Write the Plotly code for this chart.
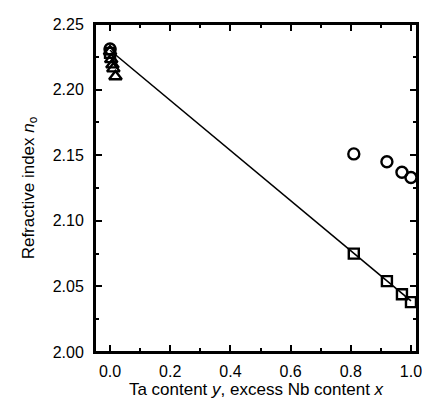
import plotly.graph_objects as go

# Data
tri_x = [0.0, 0.004, 0.008, 0.011, 0.018]
tri_y = [2.229, 2.223, 2.219, 2.216, 2.210]

sq_x = [0.0, 0.81, 0.92, 0.97, 1.0]
sq_y = [2.228, 2.075, 2.054, 2.044, 2.038]

circ_x = [0.0, 0.81, 0.92, 0.97, 1.0]
circ_y = [2.231, 2.151, 2.145, 2.137, 2.133]

fit_x = [0.0, 1.0]
fit_y = [2.230, 2.039]

x_ticks = [0.0, 0.2, 0.4, 0.6, 0.8, 1.0]
y_ticks = [2.00, 2.05, 2.10, 2.15, 2.20, 2.25]

X_RANGE = [-0.05, 1.02]
Y_RANGE = [2.0, 2.25]
FONT = "Liberation Sans, Arial, sans-serif"

fig = go.Figure()
fig.add_trace(go.Scatter(x=fit_x, y=fit_y, mode="lines",
                         line=dict(color="black", width=1.6), showlegend=False))
fig.add_trace(go.Scatter(x=circ_x, y=circ_y, mode="markers",
                         marker=dict(symbol="circle-open", size=11, color="black",
                                     line=dict(width=2.4, color="black")), showlegend=False))
fig.add_trace(go.Scatter(x=sq_x, y=sq_y, mode="markers",
                         marker=dict(symbol="square-open", size=10, color="black",
                                     line=dict(width=2.4, color="black")), showlegend=False))
fig.add_trace(go.Scatter(x=tri_x, y=tri_y, mode="markers",
                         marker=dict(symbol="triangle-up-open", size=11, color="black",
                                     line=dict(width=2.4, color="black")), showlegend=False))
# invisible trace so the mirrored (top/right) axes get drawn
fig.add_trace(go.Scatter(x=fit_x, y=fit_y, xaxis="x2", yaxis="y2", mode="lines",
                         line=dict(color="rgba(0,0,0,0)"), showlegend=False, hoverinfo="skip"))

axis_common = dict(
    showgrid=False, zeroline=False, showline=True, linecolor="black", linewidth=2,
    ticks="inside", ticklen=7, tickwidth=2, tickcolor="black",
    tickfont=dict(family=FONT, size=16, color="black"),
)
x_minor = dict(dtick=0.1, tick0=0, ticks="inside", ticklen=4, tickwidth=2, tickcolor="black")
y_minor = dict(dtick=0.025, tick0=2.0, ticks="inside", ticklen=4, tickwidth=2, tickcolor="black")

fig.update_layout(
    xaxis=dict(range=X_RANGE, tickvals=x_ticks, ticktext=[f"{v:.1f}" for v in x_ticks],
               minor=x_minor, ticklabelstandoff=4,
               title=dict(text="Ta content <i>y</i>, excess Nb content <i>x</i>", standoff=3,
                          font=dict(family=FONT, size=17, color="black")),
               **axis_common),
    yaxis=dict(range=Y_RANGE, tickvals=y_ticks, ticktext=[f"{v:.2f}" for v in y_ticks],
               minor=y_minor, ticklabelstandoff=6,
               title=dict(text="Refractive index <i>n</i><sub>o</sub>", standoff=14,
                          font=dict(family=FONT, size=17, color="black")),
               **axis_common),
    xaxis2=dict(range=X_RANGE, tickvals=x_ticks, minor=x_minor, overlaying="x", side="top",
                anchor="y2", showticklabels=False, **axis_common),
    yaxis2=dict(range=Y_RANGE, tickvals=y_ticks, minor=y_minor, overlaying="y", side="right",
                anchor="x2", showticklabels=False, **axis_common),
    shapes=[dict(type="rect", xref="paper", yref="paper", x0=0, x1=1, y0=0, y1=1,
                 line=dict(color="black", width=2), fillcolor="rgba(0,0,0,0)", layer="above")],
    # the page body adds an 8 px offset, so the figure is sized to fit inside it
    width=422, height=396,
    margin=dict(l=87, r=8, t=11, b=52),
    paper_bgcolor="white", plot_bgcolor="white",
)

fig.write_html("out.html")
